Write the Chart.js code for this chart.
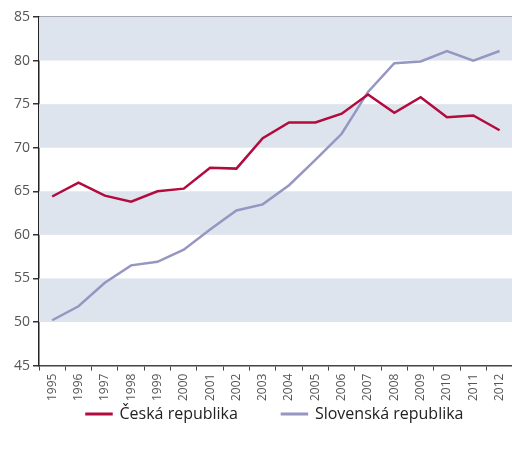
<!DOCTYPE html>
<html>
<head>
<meta charset="utf-8">
<script src="https://cdn.jsdelivr.net/npm/chart.js@4"></script>
<style>
  html, body { margin: 0; padding: 0; background: #fff; overflow: hidden; }
  #wrap { width: 517px; height: 453px; }
</style>
</head>
<body>
<div id="wrap"><canvas id="chart"></canvas></div>
<script>
// ── Data ──────────────────────────────────
const years = ["1995","1996","1997","1998","1999","2000","2001","2002","2003",
               "2004","2005","2006","2007","2008","2009","2010","2011","2012"];
const czech    = [64.4, 66.0, 64.5, 63.8, 65.0, 65.3, 67.7, 67.6, 71.1,
                  72.9, 72.9, 73.9, 76.1, 74.0, 75.8, 73.5, 73.7, 72.0];
const slovakia = [50.2, 51.8, 54.5, 56.5, 56.9, 58.3, 60.6, 62.8, 63.5,
                  65.7, 68.6, 71.6, 76.4, 79.7, 79.9, 81.1, 80.0, 81.1];
// shaded horizontal bands [from, to]
const bands = [[50, 55], [60, 65], [70, 75], [80, 85]];

// ── Band plugin ───────────────────────────
const bandPlugin = {
  id: "bands",
  beforeDatasetsDraw(chart) {
    const { ctx, chartArea: a, scales: { y } } = chart;
    ctx.save();
    ctx.fillStyle = "#dee4ee";
    bands.forEach(([lo, hi]) => {
      const top = y.getPixelForValue(hi);
      const bot = y.getPixelForValue(lo);
      ctx.fillRect(a.left, top, a.right - a.left, bot - top);
    });
    ctx.restore();
  },
};

// ── Legend placement: wide item gap, but compact box ──
const legendPlugin = {
  id: "legendFit",
  beforeLayout(chart) {
    const lg = chart.legend;
    if (lg && !lg._patched) {
      const fit = lg.fit;
      lg.fit = function () { fit.call(this); this.height = 40; };
      lg._patched = true;
    }
  },
  afterLayout(chart) {
    const lg = chart.legend;
    lg.top = 362;
    lg.bottom = chart.height;
    lg.left += 11;
    lg.right += 11;
  },
};

new Chart(document.getElementById("chart"), {
  type: "line",
  data: {
    labels: years,
    datasets: [
      {
        label: "Česká republika",
        data: czech,
        borderColor: "#b20b3e",
        backgroundColor: "#b20b3e",
        borderWidth: 2.5,
        pointRadius: 0,
        tension: 0,
      },
      {
        label: "Slovenská republika",
        data: slovakia,
        borderColor: "#9597c2",
        backgroundColor: "#9597c2",
        borderWidth: 2.5,
        pointRadius: 0,
        tension: 0,
      },
    ],
  },
  plugins: [bandPlugin, legendPlugin],
  options: {
    responsive: true,
    maintainAspectRatio: false,
    animation: false,
    layout: { padding: { top: 17, right: 0, left: 11, bottom: 9 } },
    plugins: {
      legend: {
        position: "bottom",
        labels: {
          boxWidth: 25,
          boxHeight: 0.5,
          padding: 44,
          color: "#222",
          font: { family: "'Open Sans'", size: 16 },
        },
      },
      tooltip: { enabled: false },
    },
    scales: {
      x: {
        offset: true,
        grid: {
          offset: true,
          drawOnChartArea: false,
          tickLength: 5,
          tickColor: "#444",
        },
        border: { color: "#444", width: 1.5 },
        ticks: {
          color: "#555",
          font: { family: "'Open Sans'", size: 12 },
          minRotation: 90,
          maxRotation: 90,
          autoSkip: false,
          padding: 3,
        },
      },
      y: {
        min: 45,
        max: 85,
        grid: {
          color: ctx => ctx.tick && ctx.tick.value === 85 ? "#a8a8b0" : "transparent",
          lineWidth: 1.5,
          tickLength: 6,
          tickColor: "#333",
        },
        border: { color: "#222", width: 1.5 },
        ticks: {
          stepSize: 5,
          color: "#555",
          font: { family: "'Open Sans'", size: 14 },
          padding: 3,
        },
      },
    },
  },
});
</script>
</body>
</html>
